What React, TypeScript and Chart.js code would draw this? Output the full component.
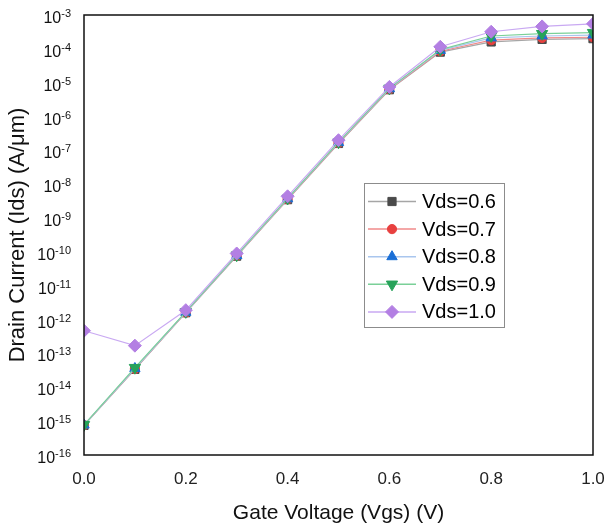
import React, { useEffect, useRef } from "react";
import { Chart, registerables } from "chart.js";
import { drawPoint } from "chart.js/helpers";

Chart.register(...registerables);

// Gate voltage sweep (V)
const vgs = [0, 0.1, 0.2, 0.3, 0.4, 0.5, 0.6, 0.7, 0.8, 0.9, 1.0];

// Drain current (A/μm) for each drain bias
const ids06 = [7.5e-16, 3.4e-14, 1.6e-12, 7.5e-11, 3.5e-9, 1.6e-7, 6.2e-6, 8.0e-5, 1.6e-4, 1.9e-4, 2.0e-4];
const ids07 = [7.6e-16, 3.5e-14, 1.6e-12, 7.7e-11, 3.6e-9, 1.65e-7, 6.4e-6, 8.5e-5, 1.8e-4, 2.1e-4, 2.2e-4];
const ids08 = [7.7e-16, 3.6e-14, 1.65e-12, 7.8e-11, 3.7e-9, 1.7e-7, 6.6e-6, 9.0e-5, 2.1e-4, 2.4e-4, 2.55e-4];
const ids09 = [7.8e-16, 3.8e-14, 1.7e-12, 8.0e-11, 3.8e-9, 1.75e-7, 6.8e-6, 9.5e-5, 2.4e-4, 2.8e-4, 3.0e-4];
const ids10 = [4.7e-13, 1.7e-13, 1.9e-12, 9.0e-11, 4.4e-9, 2.0e-7, 7.5e-6, 1.15e-4, 3.2e-4, 4.6e-4, 5.5e-4];

const seriesLabels = ["Vds=0.6", "Vds=0.7", "Vds=0.8", "Vds=0.9", "Vds=1.0"];
const seriesValues = [ids06, ids07, ids08, ids09, ids10];

// Decade exponents shown on the current axis
const yExponents = [-16, -15, -14, -13, -12, -11, -10, -9, -8, -7, -6, -5, -4, -3];

const FONT = "'Liberation Sans', Arial, sans-serif";

const seriesStyles = [
  { marker: "#4a4a4a", line: "#a6a6a6", pointStyle: "rect", radius: 5.8, rotation: 0 },
  { marker: "#e8403f", line: "#f08a8a", pointStyle: "circle", radius: 4.6, rotation: 0 },
  { marker: "#1a6fd6", line: "#a9c6ee", pointStyle: "triangle", radius: 6, rotation: 0 },
  { marker: "#27a35a", line: "#7ad098", pointStyle: "triangle", radius: 6.5, rotation: 180 },
  { marker: "#b37fe3", line: "#c9a9f2", pointStyle: "rectRot", radius: 6.5, rotation: 0 },
];

// Frame around the plotting area
const framePlugin = {
  id: "frame",
  afterDatasetsDraw(chart: any) {
    const { ctx, chartArea } = chart;
    ctx.save();
    ctx.strokeStyle = "#111";
    ctx.lineWidth = 1.5;
    ctx.strokeRect(chartArea.left, chartArea.top, chartArea.right - chartArea.left, chartArea.bottom - chartArea.top);
    ctx.restore();
  },
};

// Power-of-ten labels on the logarithmic axis
const decadeLabelsPlugin = {
  id: "decadeLabels",
  afterDraw(chart: any) {
    const { ctx } = chart;
    const yScale = chart.scales.y;
    const rightEdge = 71;
    ctx.save();
    ctx.fillStyle = "#111";
    ctx.textBaseline = "alphabetic";
    for (const e of yExponents) {
      const y = yScale.getPixelForValue(Math.pow(10, e));
      const expText = String(e);
      ctx.font = `11px ${FONT}`;
      const expW = ctx.measureText(expText).width;
      ctx.textAlign = "left";
      ctx.fillText(expText, rightEdge - expW, y + 2);
      ctx.font = `16px ${FONT}`;
      ctx.textAlign = "right";
      ctx.fillText("10", rightEdge - expW, y + 8);
    }
    ctx.restore();
  },
};

// Boxed legend inside the plotting area
const innerLegendPlugin = {
  id: "innerLegend",
  afterDraw(chart: any) {
    const { ctx } = chart;
    const boxLeft = 364;
    const boxTop = 183;
    const boxW = 140;
    const boxH = 144;
    const rowH = 27.6;
    ctx.save();
    ctx.fillStyle = "#fff";
    ctx.fillRect(boxLeft, boxTop, boxW, boxH);
    ctx.strokeStyle = "#8c8c8c";
    ctx.lineWidth = 1;
    ctx.strokeRect(boxLeft + 0.5, boxTop + 0.5, boxW, boxH);
    chart.data.datasets.forEach((ds: any, i: number) => {
      const cy = boxTop + 18.5 + i * rowH;
      ctx.strokeStyle = ds.borderColor;
      ctx.lineWidth = 1.5;
      ctx.beginPath();
      ctx.moveTo(boxLeft + 4, cy);
      ctx.lineTo(boxLeft + 52, cy);
      ctx.stroke();
      ctx.fillStyle = ds.pointBackgroundColor;
      ctx.strokeStyle = ds.pointBorderColor;
      ctx.lineWidth = 1;
      drawPoint(ctx, { pointStyle: ds.pointStyle, radius: ds.pointRadius, rotation: ds.pointRotation, borderWidth: 1 }, boxLeft + 28, cy);
      ctx.fillStyle = "#000";
      ctx.font = `20px ${FONT}`;
      ctx.textAlign = "left";
      ctx.textBaseline = "middle";
      ctx.fillText(ds.label, boxLeft + 58, cy + 1);
    });
    ctx.restore();
  },
};

export default function App() {
  const canvasRef = useRef<HTMLCanvasElement | null>(null);

  useEffect(() => {
    document.body.style.margin = "0";
    const canvas = canvasRef.current;
    if (!canvas) return;

    const datasets = seriesValues.map((vals, i) => {
      const st = seriesStyles[i];
      return {
        label: seriesLabels[i],
        data: vgs.map((x, k) => ({ x, y: vals[k] })),
        borderColor: st.line,
        backgroundColor: st.marker,
        borderWidth: 1.2,
        pointStyle: st.pointStyle,
        pointRadius: st.radius,
        pointRotation: st.rotation,
        pointBackgroundColor: st.marker,
        pointBorderColor: st.marker,
        pointBorderWidth: 1,
        order: seriesValues.length - i,
        tension: 0,
      };
    });

    const chart = new Chart(canvas, {
      type: "line",
      data: { datasets },
      options: {
        responsive: false,
        animation: false,
        layout: { padding: { top: 15, right: 14, left: 0, bottom: 0 } },
        plugins: {
          legend: { display: false },
          tooltip: { enabled: false },
        },
        scales: {
          x: {
            type: "linear",
            min: 0,
            max: 1,
            grid: { display: false, drawTicks: true, tickLength: 14 },
            border: { display: false },
            ticks: {
              stepSize: 0.2,
              padding: 0,
              color: "#222",
              font: { family: FONT, size: 17 },
              callback: (v: any) => Number(v).toFixed(1),
            },
            title: {
              display: true,
              text: "Gate Voltage (Vgs) (V)",
              color: "#111",
              font: { family: FONT, size: 21 },
              padding: { top: 0, bottom: 0 },
            },
            afterFit: (s: any) => {
              s.height = 71;
            },
          },
          y: {
            type: "logarithmic",
            min: 1e-16,
            max: 1e-3,
            grid: { display: false, drawTicks: false },
            border: { display: false },
            ticks: { display: false },
            title: {
              display: true,
              text: "Drain Current (Ids) (A/μm)",
              color: "#111",
              font: { family: FONT, size: 22 },
              padding: { top: 5, bottom: 0 },
            },
            afterFit: (s: any) => {
              s.width = 84;
            },
          },
        },
      } as any,
      plugins: [framePlugin, decadeLabelsPlugin, innerLegendPlugin],
    });

    return () => chart.destroy();
  }, []);

  return (
    <div style={{ width: 607, height: 526, background: "#fff" }}>
      <canvas ref={canvasRef} width={607} height={526} />
    </div>
  );
}
